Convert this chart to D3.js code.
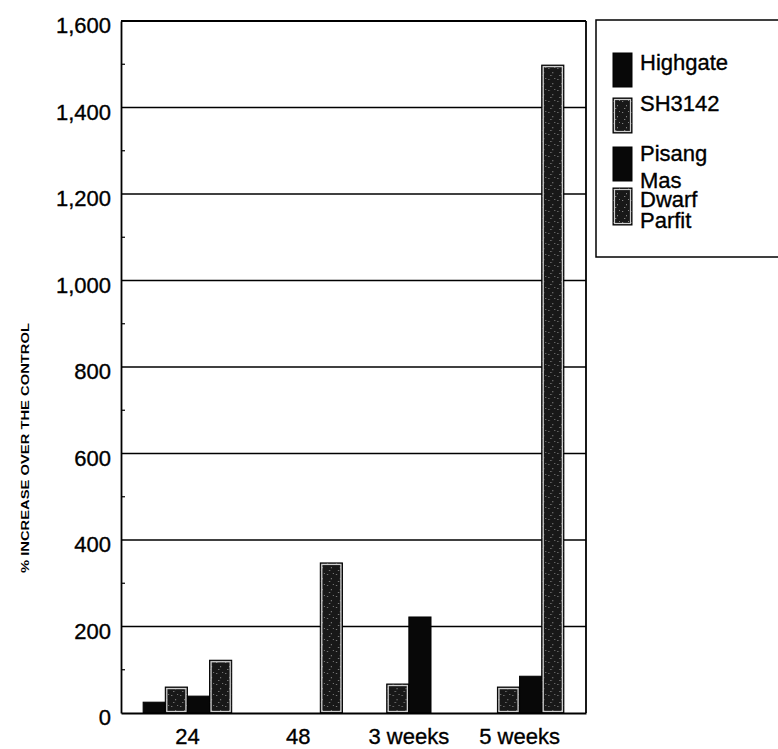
<!DOCTYPE html>
<html>
<head>
<meta charset="utf-8">
<script src="https://cdn.jsdelivr.net/npm/d3@7/dist/d3.min.js"></script>
<style>
  html, body { margin: 0; padding: 0; background: #fff; }
  svg { display: block; font-family: "Liberation Sans", Arial, Helvetica, sans-serif; }
</style>
</head>
<body>
<svg id="chart" width="778" height="749"></svg>
<script>
// ---- data ----
const categories = ["24", "48", "3 weeks", "5 weeks"];
const seriesNames = ["Highgate", "SH3142", "Pisang Mas", "Dwarf Parfit"];
const highgate    = [25, 0, 0, 0];
const sh3142      = [60, 0, 67, 60];
const pisangMas   = [39, 0, 222, 85];
const dwarfParfit = [122, 347, 0, 1498];
const yTicks = [0, 200, 400, 600, 800, 1000, 1200, 1400, 1600];
const yMinorTicks = [100, 300, 500, 700, 900, 1100, 1300, 1500];
const yLabel = "% INCREASE OVER THE CONTROL";
const legendLines = [["Highgate"], ["SH3142"], ["Pisang", "Mas"], ["Dwarf", "Parfit"]];

(function () {
const seriesValues = [highgate, sh3142, pisangMas, dwarfParfit];
const rows = categories.map((c, i) => ({
  cat: c,
  vals: seriesNames.map((s, j) => ({ series: s, value: seriesValues[j][i] }))
}));

// ---- layout ----
const svg = d3.select("#chart");
const pLeft = 121, pRight = 586, pTop = 21, pBottom = 713;

const x0 = d3.scaleBand().domain(categories).range([pLeft, pRight]).paddingInner(0.2).paddingOuter(0.2);
const x1 = d3.scaleBand().domain(seriesNames).range([0, x0.bandwidth()]).padding(0);
const y = d3.scaleLinear().domain([0, 1600]).range([pBottom, pTop]);

const solid = "#080808";
const speckled = s => (s === "SH3142" || s === "Dwarf Parfit");
const fillFor = s => speckled(s) ? "url(#speckle)" : solid;

// speckle pattern
const defs = svg.append("defs");
const pat = defs.append("pattern").attr("id", "speckle").attr("patternUnits", "userSpaceOnUse")
  .attr("width", 9).attr("height", 11);
pat.append("rect").attr("width", 9).attr("height", 11).attr("fill", "#181818");
[[1,2,1.2,1],[5,6,1,1.3],[3,9,1.3,1],[7,1,1,1]].forEach(d => {
  pat.append("rect").attr("x", d[0]).attr("y", d[1]).attr("width", d[2]).attr("height", d[3]).attr("fill", "#808080");
});

// gridlines
svg.append("g").selectAll("line").data(yTicks.filter(t => t > 0)).join("line")
  .attr("x1", pLeft).attr("x2", pRight)
  .attr("y1", d => y(d)).attr("y2", d => y(d))
  .attr("stroke", "#000").attr("stroke-width", 1.5);

// right frame line
svg.append("line").attr("x1", pRight).attr("x2", pRight).attr("y1", pTop).attr("y2", pBottom)
  .attr("stroke", "#000").attr("stroke-width", 1.8);

// bars
const groups = svg.append("g").selectAll("g").data(rows).join("g")
  .attr("transform", d => `translate(${x0(d.cat)},0)`);
groups.selectAll("rect.bar").data(d => d.vals.filter(v => v.value > 0)).join("rect")
  .attr("class", "bar")
  .attr("x", d => x1(d.series))
  .attr("y", d => y(d.value))
  .attr("width", x1.bandwidth())
  .attr("height", d => y(0) - y(d.value))
  .attr("fill", d => fillFor(d.series))
  .attr("stroke", "#000").attr("stroke-width", 1);
groups.selectAll("rect.inner").data(d => d.vals.filter(v => v.value > 0 && speckled(v.series))).join("rect")
  .attr("class", "inner")
  .attr("x", d => x1(d.series) + 1.5)
  .attr("y", d => y(d.value) + 1.5)
  .attr("width", x1.bandwidth() - 3)
  .attr("height", d => Math.max(0, y(0) - y(d.value) - 3))
  .attr("fill", "none")
  .attr("stroke", "#cfcfcf").attr("stroke-width", 1.3);

// left axis
const yAxis = d3.axisLeft(y).tickValues(yTicks).tickSize(0).tickPadding(10)
  .tickFormat(d3.format(","));
const ya = svg.append("g").attr("transform", `translate(${pLeft},0)`).call(yAxis);
ya.select(".domain").attr("stroke", "#000").attr("stroke-width", 1.8);
ya.selectAll("text").attr("font-size", 22).attr("fill", "#000").attr("dy", "0.35em")
  .attr("stroke", "#000").attr("stroke-width", 0.35)
  .attr("transform", "translate(0,4)");
// minor ticks (inward)
svg.append("g").selectAll("line").data(yMinorTicks).join("line")
  .attr("x1", pLeft).attr("x2", pLeft + 4)
  .attr("y1", d => y(d)).attr("y2", d => y(d))
  .attr("stroke", "#000").attr("stroke-width", 1.2);

// bottom axis
const xAxis = d3.axisBottom(x0).tickSize(0).tickPadding(0);
const xa = svg.append("g").attr("transform", `translate(0,${pBottom})`).call(xAxis);
xa.select(".domain").attr("stroke", "#000").attr("stroke-width", 1.8);
xa.selectAll("text").attr("font-size", 22).attr("fill", "#000")
  .attr("stroke", "#000").attr("stroke-width", 0.35)
  .attr("dy", null).attr("y", 31);

// top frame line
svg.append("line").attr("x1", pLeft).attr("x2", pRight).attr("y1", pTop).attr("y2", pTop)
  .attr("stroke", "#000").attr("stroke-width", 1.8);

// y label
svg.append("text")
  .attr("transform", "translate(29,448) rotate(-90)")
  .attr("text-anchor", "middle")
  .attr("font-size", 11).attr("font-weight", "bold")
  .attr("textLength", 250).attr("lengthAdjust", "spacingAndGlyphs")
  .text(yLabel);

// legend
const lg = svg.append("g");
lg.append("rect").attr("x", 596).attr("y", 20).attr("width", 200).attr("height", 237)
  .attr("fill", "#fff").attr("stroke", "#000").attr("stroke-width", 1.5);
const swatchY = [53, 98, 147, 188];
const swatchH = [34, 35, 34, 37];
const textY = [[70], [111], [161, 188], [207, 228]];
seriesNames.forEach((s, i) => {
  lg.append("rect").attr("x", 613).attr("y", swatchY[i]).attr("width", 19).attr("height", swatchH[i])
    .attr("fill", fillFor(s)).attr("stroke", "#000").attr("stroke-width", 1);
  if (speckled(s)) {
    lg.append("rect").attr("x", 614.5).attr("y", swatchY[i] + 1.5).attr("width", 16).attr("height", swatchH[i] - 3)
      .attr("fill", "none").attr("stroke", "#cfcfcf").attr("stroke-width", 1.2);
  }
  const t = lg.append("text").attr("font-size", 22).attr("fill", "#000")
    .attr("stroke", "#000").attr("stroke-width", 0.35);
  legendLines[i].forEach((line, k) => {
    t.append("tspan").attr("x", 640).attr("y", textY[i][k]).text(line);
  });
});
})();
</script>
</body>
</html>
